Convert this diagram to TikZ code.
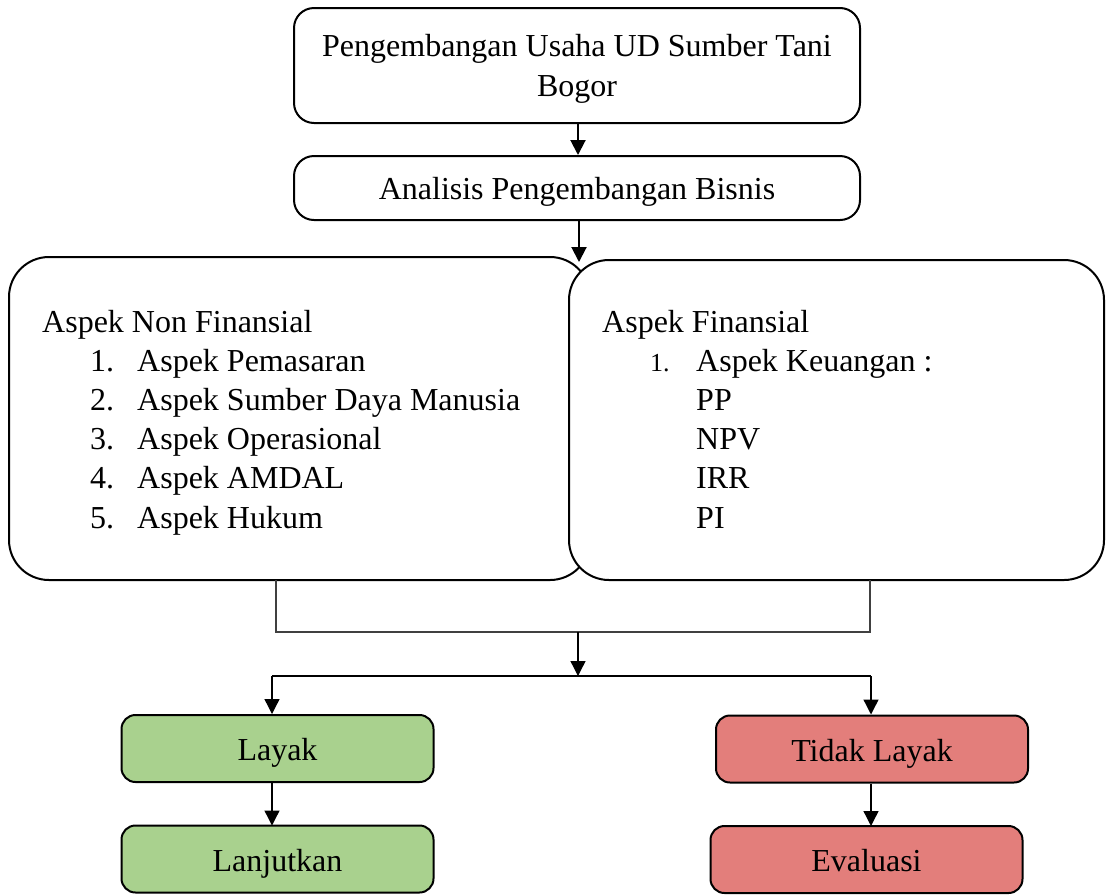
\documentclass[tikz,border=0pt]{standalone}
\usepackage{fontspec}
\setmainfont{Liberation Serif}
\usetikzlibrary{arrows.meta}
\definecolor{okgreen}{HTML}{A9D18E}
\definecolor{nored}{HTML}{E37E7B}
\definecolor{thin}{HTML}{404040}
\begin{document}
\begin{tikzpicture}[x=1pt,y=-1pt,
  bigfont/.style={font=\fontsize{32}{40}\selectfont},
  flowbox/.style={draw, line width=2pt, rounded corners=20pt, fill=white, inner sep=0pt, align=center, bigfont},
  colbox/.style={draw, line width=2pt, rounded corners=14pt, inner sep=0pt, align=center, bigfont, minimum width=312pt, minimum height=67pt, text height=30pt, text depth=6pt},
  panel/.style={draw, line width=2pt, rounded corners=40pt, fill=white, inner sep=0pt},
  txt/.style={anchor=base west, inner sep=0pt, bigfont},
  arr/.style={line width=2pt, -{Triangle[length=15pt,width=15pt]}},
  arrthin/.style={line width=1.3pt, -{Triangle[length=15pt,width=15pt]}},
  bracket/.style={draw=thin, line width=1.2pt}
]
\useasboundingbox (0,0) rectangle (1107,895);

% top boxes
\node[flowbox, minimum width=566pt, minimum height=115pt, text height=68pt, text depth=7pt] (pus) at (577,65.5)
  {Pengembangan Usaha UD Sumber Tani\\Bogor};
\node[flowbox, minimum width=566pt, minimum height=64pt, text height=28pt, text depth=6pt] (apb) at (577,188)
  {Analisis Pengembangan Bisnis};

% panels
\node[panel, minimum width=581pt, minimum height=323pt] (nonfin) at (299.5,418.5) {};
\node[panel, minimum width=535pt, minimum height=320pt] (fin) at (836.5,420) {};

% panel texts
\node[txt] (nfh) at (42,332) {Aspek Non Finansial};
\node[txt] (n1n) at (90,371) {1.};  \node[txt] (n1) at (137,371) {Aspek Pemasaran};
\node[txt] (n2n) at (90,410.3) {2.}; \node[txt] (n2) at (137,410.3) {Aspek Sumber Daya Manusia};
\node[txt] (n3n) at (90,449.6) {3.}; \node[txt] (n3) at (137,449.6) {Aspek Operasional};
\node[txt] (n4n) at (90,488.9) {4.}; \node[txt] (n4) at (137,488.9) {Aspek AMDAL};
\node[txt] (n5n) at (90,528.2) {5.}; \node[txt] (n5) at (137,528.2) {Aspek Hukum};

\node[txt] (fh) at (602,332) {Aspek Finansial};
\node[txt, font=\fontsize{26}{30}\selectfont] (f1n) at (650,371) {1.};
\node[txt] (f1) at (696,371) {Aspek Keuangan :};
\node[txt] (f2) at (696,410.3) {PP};
\node[txt] (f3) at (696,449.6) {NPV};
\node[txt] (f4) at (696,488.9) {IRR};
\node[txt] (f5) at (696,528.2) {PI};

% result boxes
\node[colbox, fill=okgreen] (layak) at (277.5,748.5) {Layak};
\node[colbox, fill=okgreen] (lanjut) at (277.5,859) {Lanjutkan};
\node[colbox, fill=nored] (tidak) at (872,749) {Tidak Layak};
\node[colbox, fill=nored] (eval) at (866.5,859.5) {Evaluasi};

% coordinates
\coordinate (bl) at (276,580);
\coordinate (br) at (870,580);
\coordinate (bm) at (578,632);
\coordinate (sl) at (272,676);
\coordinate (sr) at (871,676);
\coordinate (sm) at (578,676);
\coordinate (tip) at (579,262);

% connectors
\draw[arr] (pus.south -| 578,0) -- (apb.north -| 578,0);
\draw[arr] (apb.south -| tip) -- (tip);
\draw[bracket] (bl) -- (bl |- bm) -- (br |- bm) -- (br);
\draw[arrthin] (bm) -- (sm);
\draw[line width=2.4pt] (sl) -- (sr);
\draw[arrthin] (sl) -- (layak.north -| sl);
\draw[arrthin] (sr) -- (tidak.north -| sr);
\draw[arrthin] (layak.south -| sl) -- ([yshift=-1pt]lanjut.north -| sl);
\draw[arrthin] (tidak.south -| sr) -- ([yshift=-1pt]eval.north -| sr);
\end{tikzpicture}
\end{document}
